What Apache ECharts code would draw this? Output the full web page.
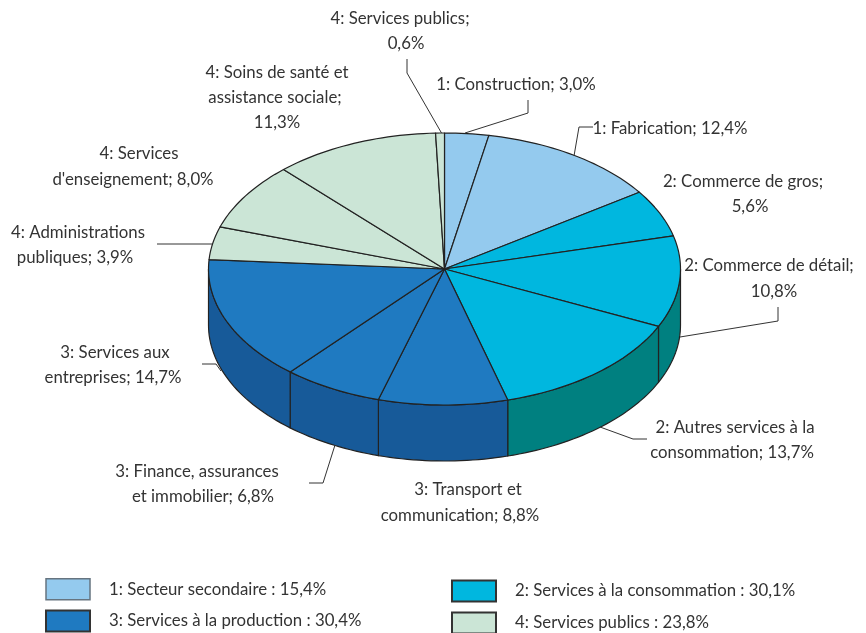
<!DOCTYPE html>
<html><head><meta charset="utf-8">
<style>html,body{margin:0;padding:0;background:#fff}#c{width:866px;height:633px}</style>
<script src="https://cdn.jsdelivr.net/npm/echarts@6/dist/echarts.min.js"></script>
</head><body><div id="c"></div>
<script>
// ---- data ----
const categories = ['Construction','Fabrication','Commerce de gros','Commerce de détail','Autres services à la consommation','Transport et communication','Finance, assurances et immobilier','Services aux entreprises','Administrations publiques',"Services d'enseignement",'Soins de santé et assistance sociale','Services publics'];
const values = [3.0,12.4,5.6,10.8,13.7,8.8,6.8,14.7,3.9,8.0,11.3,0.6];
const sectorOf = [0,0,1,1,1,2,2,2,3,3,3,3];
const sectorNames = ['1: Secteur secondaire : 15,4%','2: Services à la consommation : 30,1%','3: Services à la production : 30,4%','4: Services publics : 23,8%'];
const topColors = ['#94CAEE','#00B7DF','#1F7AC1','#CBE5D6'];
const sideColors = ['#6FA8CC','#008080','#175A99','#A5C4B2'];

// ---- layout ----
const FONT = 'Lato';
const FONT_SIZE = 16.8;
const INK = '#333333';
const cx = 444.5, cy = 269, rx = 236, ry = 136, depth = 56;
const labelLines = [
  ['4: Services publics;',400,19],['0,6%',406,44],
  ['1: Construction; 3,0%',516,85],
  ['1: Fabrication; 12,4%',670,129],
  ['2: Commerce de gros;',743,182],['5,6%',750,207],
  ['2: Commerce de détail;',769,266],['10,8%',774,292],
  ['2: Autres services à la',735,428],['consommation; 13,7%',732,453],
  ['3: Transport et',468,490],['communication; 8,8%',460,516],
  ['3: Finance, assurances',197,472],['et immobilier; 6,8%',203,497],
  ['3: Services aux',115,353],['entreprises; 14,7%',113,378],
  ['4: Administrations',78,233],['publiques; 3,9%',75,258],
  ['4: Services',139,154],["d'enseignement; 8,0%",133,180],
  ['4: Soins de santé et',277,73],['assistance sociale;',275,98],['11,3%',277,123]
];
const leaders = [
  [[407,59],[407,73],[441.5,133]],
  [[528,100],[528,113],[465,133]],
  [[593,127],[579,127],[574,156]],
  [[778,307],[778,321],[680,337]],
  [[647,439],[633,439],[600,427]],
  [[309,483],[323,483],[335,445]],
  [[202,364],[216,364],[221,371]],
  [[157,244],[212,244]]
];

const total = values.reduce((a,b)=>a+b,0);
let running = 0;
const slices = values.map((v,i)=>{const s=running; running+=v; return {i,start:s/total*360,end:running/total*360};});
const pt = (deg,dy=0)=>{const t=deg*Math.PI/180; return [cx+rx*Math.sin(t), cy-ry*Math.cos(t)+dy];};
const arc = (a,b,dy=0)=>{const n=Math.max(2,Math.ceil((b-a)/1.5)); const o=[]; for(let k=0;k<=n;k++) o.push(pt(a+(b-a)*k/n,dy)); return o;};

function renderSlice(params, api){
  const a = api.value(0), b = api.value(1), sector = api.value(2);
  const line = {stroke:'#222222', lineWidth:1.2, lineJoin:'round'};
  const children = [];
  const sa = Math.max(a,90), sb = Math.min(b,270);
  if (sb > sa){
    const front = arc(sa,sb);
    const back = arc(sa,sb,depth).reverse();
    children.push({type:'polygon',shape:{points:front.concat(back)},style:Object.assign({fill:sideColors[sector]},line)});
  }
  children.push({type:'polygon',shape:{points:[[cx,cy]].concat(arc(a,b))},style:Object.assign({fill:topColors[sector]},line)});
  return {type:'group',children};
}

const series = sectorNames.map((name,g)=>({
  type:'custom', name, coordinateSystem:'none', silent:true, animation:false,
  itemStyle:{color:topColors[g],borderColor:'#333333',borderWidth:2},
  renderItem:renderSlice,
  data:slices.filter(s=>sectorOf[s.i]===g).map(s=>({name:categories[s.i],value:[s.start,s.end,g]}))
}));

const graphic = [];
leaders.forEach(p=>graphic.push({type:'polyline',z:5,silent:true,shape:{points:p},style:{stroke:'#333333',lineWidth:1,fill:null}}));
labelLines.forEach(l=>graphic.push({type:'text',z:6,silent:true,x:l[1],y:l[2],style:{text:l[0],font:FONT_SIZE+'px '+FONT,fill:INK,textAlign:'center',textVerticalAlign:'middle'}}));

const legendBase = {orient:'vertical',icon:'rect',itemWidth:44,itemHeight:21,itemGap:9,padding:0,height:120,selectedMode:false,
  textStyle:{fontFamily:FONT,fontSize:FONT_SIZE,color:INK,padding:[2,0,0,14]}};
const chart = echarts.init(document.getElementById('c'),null,{renderer:'canvas'});
chart.setOption({
  animation:false, backgroundColor:'#fff',
  legend:[
    Object.assign({},legendBase,{left:45,top:578,data:[{name:sectorNames[0],itemStyle:{borderColor:'#667480',borderWidth:1.5}},{name:sectorNames[2]}]}),
    Object.assign({},legendBase,{left:451,top:579.5,data:[{name:sectorNames[1]},{name:sectorNames[3]}]})
  ],
  series, graphic
});
</script></body></html>
